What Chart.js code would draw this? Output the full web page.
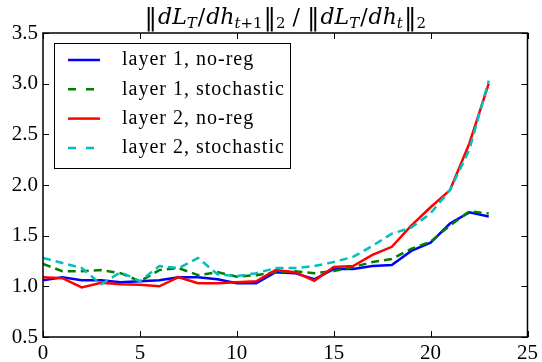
<!DOCTYPE html>
<html>
<head>
<meta charset="utf-8">
<script src="https://cdn.jsdelivr.net/npm/chart.js@4"></script>
<style>
  body { margin: 0; background: #fff; }
  canvas { display: block; }
</style>
</head>
<body>
<canvas id="ratioChart" width="542" height="362"></canvas>
<script>
const steps = [0, 1, 2, 3, 4, 5, 6, 7, 8, 9, 10, 11, 12, 13, 14, 15, 16, 17, 18, 19, 20, 21, 22, 23];
const layer1NoReg = [1.06, 1.09, 1.06, 1.06, 1.04, 1.05, 1.06, 1.09, 1.09, 1.07, 1.03, 1.03, 1.14, 1.13, 1.07, 1.17, 1.17, 1.20, 1.21, 1.35, 1.43, 1.62, 1.73, 1.69];
const layer1Stoch = [1.22, 1.15, 1.15, 1.16, 1.13, 1.05, 1.16, 1.18, 1.11, 1.14, 1.095, 1.11, 1.14, 1.15, 1.13, 1.15, 1.19, 1.24, 1.27, 1.37, 1.44, 1.60, 1.74, 1.72];
const layer2NoReg = [1.09, 1.08, 0.99, 1.035, 1.02, 1.015, 1.0, 1.09, 1.03, 1.03, 1.04, 1.05, 1.16, 1.14, 1.055, 1.19, 1.20, 1.31, 1.39, 1.60, 1.78, 1.95, 2.41, 3.0];
const layer2Stoch = [1.28, 1.23, 1.18, 1.02, 1.14, 1.05, 1.20, 1.18, 1.28, 1.12, 1.10, 1.13, 1.18, 1.18, 1.20, 1.24, 1.29, 1.40, 1.52, 1.58, 1.72, 1.95, 2.35, 3.03];
const seriesLabels = ['layer 1, no-reg', 'layer 1, stochastic', 'layer 2, no-reg', 'layer 2, stochastic'];
const xTicks = [0, 5, 10, 15, 20, 25];
const yTicks = [0.5, 1.0, 1.5, 2.0, 2.5, 3.0, 3.5];

const SERIF = '"Liberation Serif", "DejaVu Serif", serif';
const MATH = '"DejaVu Serif", serif';
const DASH = [8, 5];

function pts(ys) {
    return steps.map((x, i) => ({ x: x, y: ys[i] }));
}

function makeSet(label, ys, color, dashed, order) {
    return {
        label: label,
        data: pts(ys),
        borderColor: color,
        backgroundColor: color,
        borderWidth: 2.5,
        borderDash: dashed ? DASH : [],
        pointRadius: 0,
        tension: 0,
        fill: false,
        order: order
    };
}

// frame, inward ticks, title and boxed legend, drawn the way matplotlib does
const mplLook = {
    id: 'mplLook',
    afterDatasetsDraw(chart) {
        const ctx = chart.ctx;
        const a = chart.chartArea;
        const xs = chart.scales.x, ys = chart.scales.y;
        ctx.save();
        ctx.strokeStyle = '#000';
        ctx.lineWidth = 1;
        ctx.setLineDash([]);
        // inward tick marks on all four sides
        ctx.beginPath();
        xTicks.forEach(v => {
            const px = Math.round(xs.getPixelForValue(v)) + 0.5;
            ctx.moveTo(px, a.bottom); ctx.lineTo(px, a.bottom - 6);
            ctx.moveTo(px, a.top); ctx.lineTo(px, a.top + 6);
        });
        yTicks.forEach(v => {
            const py = Math.round(ys.getPixelForValue(v)) + 0.5;
            ctx.moveTo(a.left, py); ctx.lineTo(a.left + 6, py);
            ctx.moveTo(a.right, py); ctx.lineTo(a.right - 6, py);
        });
        ctx.stroke();
        ctx.lineWidth = 1.5;
        ctx.strokeRect(a.left, a.top, a.right - a.left, a.bottom - a.top);

        // legend
        const lx = 54, ly = 43, lw = 236, lh = 125;
        ctx.fillStyle = '#fff';
        ctx.fillRect(lx, ly, lw, lh);
        ctx.lineWidth = 1;
        ctx.strokeRect(lx + 0.5, ly + 0.5, lw, lh);
        ctx.font = '20px ' + SERIF;
        ctx.textBaseline = 'middle';
        chart.data.datasets.forEach((ds, i) => {
            const yy = 60 + i * 29.3;
            ctx.strokeStyle = ds.borderColor;
            ctx.lineWidth = 2.5;
            ctx.setLineDash(ds.borderDash.length ? [8, 10] : []);
            ctx.beginPath();
            ctx.moveTo(68, yy); ctx.lineTo(100, yy);
            ctx.stroke();
            ctx.setLineDash([]);
            ctx.fillStyle = '#000';
            ctx.letterSpacing = '1px';
            ctx.fillText(ds.label, 122, yy);
            ctx.letterSpacing = '0px';
        });

        // title: ||dL_T/dh_{t+1}||_2 / ||dL_T/dh_t||_2
        // run = [text, size, italic, baseline shift, extra space after]
        const big = 22, small = 15, bar = 25;
        const runs = [
            ['\u2016', bar, false, 1, 1], ['dL', big, true, 0, 0], ['T', small, true, 4, 1],
            ['/', big, false, 0, 1], ['dh', big, true, 0, 0], ['t', small, true, 4, 0], ['+1', small, false, 4, 1],
            ['\u2016', bar, false, 1, 0], ['2', small, false, 4, 0],
            [' / ', big, false, 0, 0],
            ['\u2016', bar, false, 1, 1], ['dL', big, true, 0, 0], ['T', small, true, 4, 1],
            ['/', big, false, 0, 1], ['dh', big, true, 0, 0], ['t', small, true, 4, 1],
            ['\u2016', bar, false, 1, 0], ['2', small, false, 4, 0]
        ];
        const fontOf = r => (r[2] ? 'italic ' : '') + r[1] + 'px ' + MATH;
        let total = 0;
        runs.forEach(r => { ctx.font = fontOf(r); total += ctx.measureText(r[0]).width + r[4]; });
        let tx = (a.left + a.right) / 2 - total / 2;
        const base = 24;
        ctx.textBaseline = 'alphabetic';
        ctx.textAlign = 'left';
        ctx.fillStyle = '#000';
        runs.forEach(r => {
            ctx.font = fontOf(r);
            ctx.fillText(r[0], tx, base + r[3]);
            tx += ctx.measureText(r[0]).width + r[4];
        });
        ctx.restore();
    }
};

const ctx = document.getElementById('ratioChart').getContext('2d');
const ratioChart = new Chart(ctx, {
    type: 'line',
    data: {
        datasets: [
            makeSet(seriesLabels[0], layer1NoReg, '#0000ff', false, 3),
            makeSet(seriesLabels[1], layer1Stoch, '#008000', true, 2),
            makeSet(seriesLabels[2], layer2NoReg, '#ff0000', false, 1),
            makeSet(seriesLabels[3], layer2Stoch, '#00bfbf', true, 0)
        ]
    },
    options: {
        responsive: false,
        animation: false,
        layout: { padding: { left: 0, top: 33, right: 11, bottom: 0 } },
        plugins: {
            legend: { display: false }, // drawn by mplLook instead
            title: { display: false },
            tooltip: { enabled: false }
        },
        scales: {
            x: {
                type: 'linear',
                min: 0,
                max: 25,
                afterBuildTicks: s => { s.ticks = xTicks.map(v => ({ value: v })); },
                afterFit: s => { s.height = 25; },
                grid: { display: false, drawTicks: false },
                border: { display: false },
                ticks: {
                    padding: 4,
                    color: '#000',
                    maxRotation: 0,
                    font: { family: SERIF, size: 21 },
                    callback: v => String(v)
                }
            },
            y: {
                min: 0.5,
                max: 3.5,
                afterBuildTicks: s => { s.ticks = yTicks.map(v => ({ value: v })); },
                afterFit: s => { s.width = 43; },
                grid: { display: false, drawTicks: false },
                border: { display: false },
                ticks: {
                    padding: 5,
                    color: '#000',
                    font: { family: SERIF, size: 21 },
                    callback: v => Number(v).toFixed(1)
                }
            }
        }
    },
    plugins: [mplLook]
});
</script>
</body>
</html>
